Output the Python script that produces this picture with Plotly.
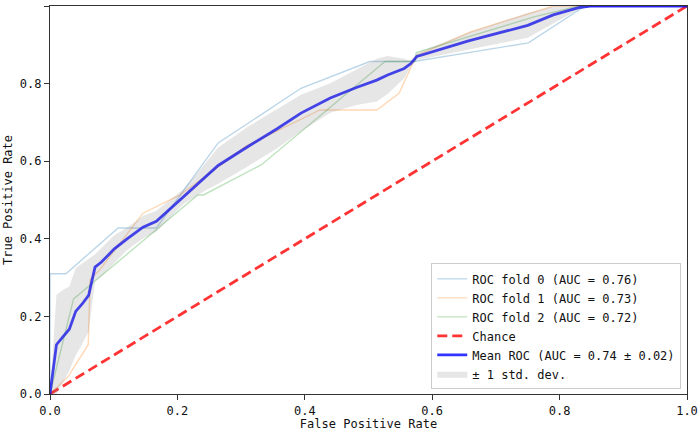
import plotly.graph_objects as go

# ---- data ----
fold0_fpr = [0.0, 0.0, 0.025, 0.107, 0.167, 0.264, 0.394, 0.502, 0.571, 0.751, 0.84, 1.0]
fold0_tpr = [0.0, 0.31, 0.31, 0.428, 0.428, 0.647, 0.788, 0.857, 0.857, 0.905, 1.0, 1.0]

fold1_fpr = [0.0, 0.029, 0.06, 0.063, 0.078, 0.146, 0.204, 0.309, 0.424, 0.513, 0.548, 0.575, 0.66, 0.79, 1.0]
fold1_tpr = [0.0, 0.046, 0.127, 0.295, 0.32, 0.466, 0.513, 0.64, 0.732, 0.732, 0.775, 0.872, 0.933, 1.0, 1.0]

fold2_fpr = [0.0, 0.037, 0.232, 0.241, 0.332, 0.526, 0.573, 0.575, 0.76, 0.83, 1.0]
fold2_tpr = [0.0, 0.245, 0.513, 0.513, 0.591, 0.857, 0.857, 0.88, 0.972, 1.0, 1.0]

mean_fpr = [0.0, 0.0101, 0.0202, 0.0303, 0.0404, 0.0505, 0.0606, 0.0707, 0.0808, 0.101, 0.121,
            0.146, 0.167, 0.209, 0.241, 0.264, 0.309, 0.356, 0.394, 0.44, 0.481, 0.513, 0.530,
            0.556, 0.566, 0.576, 0.657, 0.75, 0.79, 0.83, 0.848, 1.0]
mean_tpr = [0.0, 0.127, 0.147, 0.167, 0.213, 0.232, 0.254, 0.327, 0.340, 0.374, 0.400,
            0.430, 0.445, 0.508, 0.555, 0.589, 0.636, 0.683, 0.724, 0.763, 0.790, 0.809, 0.822,
            0.839, 0.851, 0.870, 0.910, 0.950, 0.977, 0.996, 1.0, 1.0]
upper_tpr = [0.0, 0.256, 0.268, 0.277, 0.325, 0.336, 0.347, 0.360, 0.376, 0.409, 0.429,
             0.459, 0.472, 0.527, 0.589, 0.635, 0.687, 0.733, 0.771, 0.801, 0.836, 0.864, 0.871,
             0.864, 0.859, 0.879, 0.932, 0.982, 0.999, 1.0, 1.0, 1.0]
lower_tpr = [0.0, 0.0, 0.030, 0.060, 0.100, 0.128, 0.161, 0.292, 0.304, 0.339, 0.371,
             0.401, 0.418, 0.489, 0.522, 0.542, 0.585, 0.633, 0.677, 0.725, 0.745, 0.754, 0.773,
             0.814, 0.843, 0.861, 0.888, 0.918, 0.955, 0.991, 1.0, 1.0]

chance = [0.0, 1.0]

fold_names = ["ROC fold 0 (AUC = 0.76)", "ROC fold 1 (AUC = 0.73)", "ROC fold 2 (AUC = 0.72)"]
mean_name = "Mean ROC (AUC = 0.74 ± 0.02)"
band_name = "± 1 std. dev."
ticks = [0.0, 0.2, 0.4, 0.6, 0.8, 1.0]
tick_text = ["0.0", "0.2", "0.4", "0.6", "0.8", "1.0"]

FONT = "DejaVu Sans Mono, Liberation Mono, monospace"

fig = go.Figure()
fold_colors = ["rgba(31,119,180,0.3)", "rgba(255,127,14,0.3)", "rgba(44,160,44,0.3)"]
for fx, fy, nm, c in zip([fold0_fpr, fold1_fpr, fold2_fpr], [fold0_tpr, fold1_tpr, fold2_tpr],
                         fold_names, fold_colors):
    fig.add_trace(go.Scatter(x=fx, y=fy, mode="lines", name=nm, line=dict(color=c, width=1.4)))

fig.add_trace(go.Scatter(x=chance, y=chance, mode="lines", name="Chance",
                         line=dict(color="rgba(255,0,0,0.8)", width=2.8, dash="10px,5px")))
fig.add_trace(go.Scatter(x=mean_fpr, y=mean_tpr, mode="lines", name=mean_name,
                         line=dict(color="rgba(0,0,255,0.8)", width=2.8)))
fig.add_trace(go.Scatter(x=mean_fpr, y=lower_tpr, mode="lines", showlegend=False,
                         line=dict(width=0, color="rgba(128,128,128,0)"), hoverinfo="skip"))
fig.add_trace(go.Scatter(x=mean_fpr, y=upper_tpr, mode="lines", name=band_name,
                         fill="tonexty", fillcolor="rgba(128,128,128,0.2)",
                         line=dict(width=0, color="rgba(128,128,128,0)")))

axis_common = dict(range=[0, 1], tickvals=ticks, ticktext=tick_text, ticks="outside",
                   ticklen=5, tickwidth=1, tickcolor="#333", showline=True, linecolor="#333",
                   linewidth=1.2, mirror=True, showgrid=False, zeroline=False,
                   automargin=False,
                   tickfont=dict(family=FONT, size=12, color="#111"))

fig.update_layout(
    width=700, height=433,
    margin=dict(l=50, r=13, t=6, b=38.5),
    paper_bgcolor="white", plot_bgcolor="white",
    font=dict(family=FONT, size=12, color="#111"),
    xaxis=dict(title=dict(text="False Positive Rate", standoff=2,
                          font=dict(family=FONT, size=12)), **axis_common),
    yaxis=dict(title=dict(text="True Positive Rate", standoff=4,
                          font=dict(family=FONT, size=12)), **axis_common),
    legend=dict(x=0.991, y=0.012, xanchor="right", yanchor="bottom", traceorder="normal",
                bgcolor="rgba(255,255,255,0.8)", bordercolor="#cccccc", borderwidth=1,
                font=dict(family=FONT, size=12, color="#111"), tracegroupgap=0),
    showlegend=True,
)

fig.write_html("out.html", config={"displayModeBar": False},
               post_script="document.body.style.margin='0';document.body.style.overflow='hidden';")
